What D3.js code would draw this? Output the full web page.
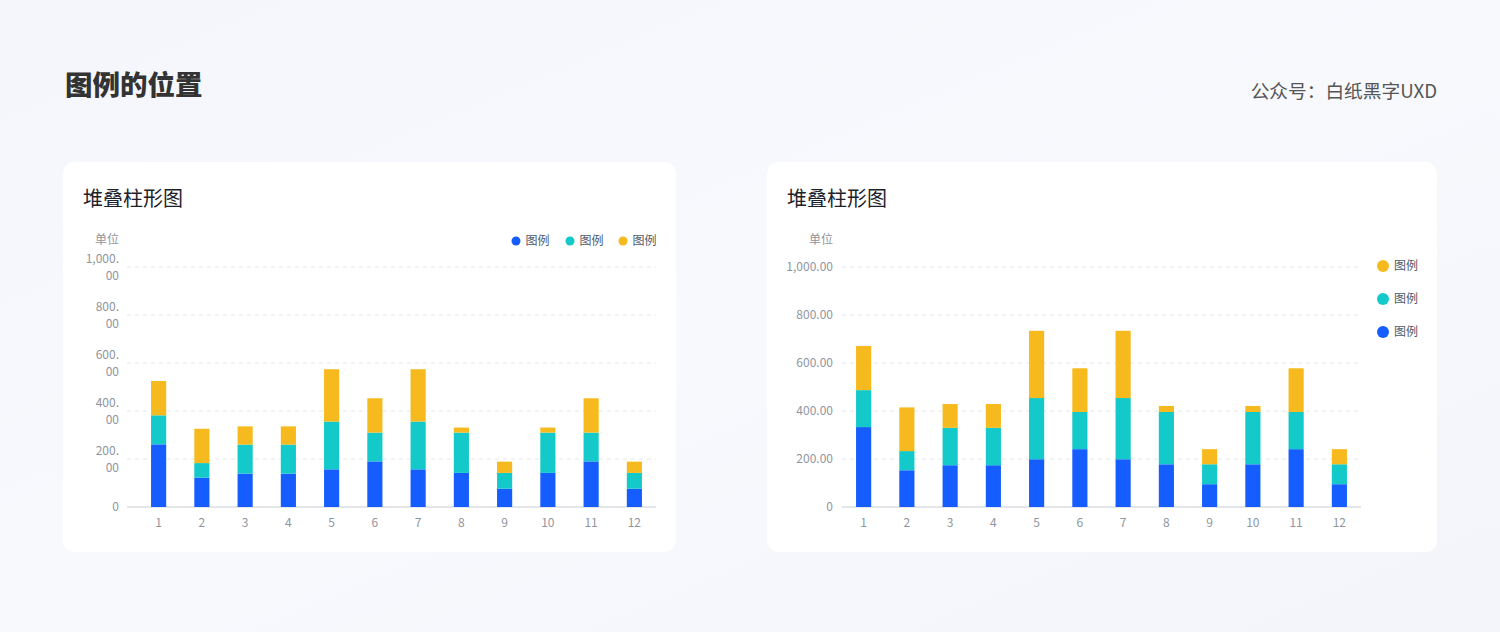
<!DOCTYPE html>
<html>
<head>
<meta charset="utf-8">
<script src="https://cdn.jsdelivr.net/npm/d3@7"></script>
<style>
  body { margin: 0; background: #f5f7fb; }
  svg { display: block; font-family: "Noto Sans CJK SC", "Noto Sans", sans-serif; }
</style>
</head>
<body>
<div id="chart"></div>
<script>
// data
var categories = ["1", "2", "3", "4", "5", "6", "7", "8", "9", "10", "11", "12"];
var yTicks = [0, 200, 400, 600, 800, 1000];
var seriesNames = ["图例", "图例", "图例"];
var colors = ["#165dff", "#14c9c9", "#f7ba1e"];

// left chart (legend on top)
var leftBlue = [261, 122, 139, 139, 157, 190, 157, 142, 76, 142, 190, 76];
var leftTeal = [121, 61, 121, 121, 199, 120, 199, 168, 66, 168, 120, 66];
var leftYellow = [143, 143, 76, 76, 218, 143, 218, 21, 47, 21, 143, 47];

// right chart (legend on the right)
var rightBlue = [333, 153, 174, 174, 199, 241, 199, 178, 95, 178, 241, 95];
var rightTeal = [154, 80, 156, 156, 255, 155, 255, 218, 83, 218, 155, 83];
var rightYellow = [184, 182, 99, 99, 280, 182, 280, 25, 63, 25, 182, 63];

var svgWidth = 1500;
var svgHeight = 632;

var svg = d3.select("#chart")
    .append("svg")
    .attr("width", svgWidth)
    .attr("height", svgHeight);

// background
var defs = svg.append("defs");
var bg = defs.append("linearGradient").attr("id", "bg")
    .attr("x1", "0").attr("y1", "0").attr("x2", "1").attr("y2", "1");
bg.append("stop").attr("offset", "0%").attr("stop-color", "#f4f6fb");
bg.append("stop").attr("offset", "50%").attr("stop-color", "#f7f9fd");
bg.append("stop").attr("offset", "100%").attr("stop-color", "#f3f5fa");
svg.append("rect").attr("width", svgWidth).attr("height", svgHeight).attr("fill", "url(#bg)");

// page title
svg.append("text")
    .attr("x", 65).attr("y", 95)
    .attr("font-size", 27.5).attr("font-weight", "900")
    .attr("fill", "#333")
    .text("图例的位置");

svg.append("text")
    .attr("x", 1437).attr("y", 98)
    .attr("text-anchor", "end")
    .attr("font-size", 18.7)
    .attr("fill", "#555")
    .text("公众号：白纸黑字UXD");

function drawChart(opt) {
    var g = svg.append("g");

    g.append("rect")
        .attr("x", opt.card[0]).attr("y", opt.card[1])
        .attr("width", opt.card[2]).attr("height", opt.card[3])
        .attr("rx", 12)
        .attr("fill", "#fff");

    g.append("text")
        .attr("x", opt.card[0] + 20).attr("y", 206)
        .attr("font-size", 20)
        .attr("fill", "#1d2129")
        .text("堆叠柱形图");

    var x = d3.scaleBand()
        .domain(categories)
        .range(opt.xRange)
        .paddingInner(0.65)
        .paddingOuter(0.325);

    var y = d3.scaleLinear()
        .domain([0, 1000])
        .range([507, 267]);

    // grid lines
    g.selectAll(".grid")
        .data(yTicks.filter(d => d > 0))
        .enter()
        .append("line")
        .attr("x1", opt.gridX[0]).attr("x2", opt.gridX[1])
        .attr("y1", d => y(d)).attr("y2", d => y(d))
        .attr("stroke", "#e5e6eb")
        .attr("stroke-dasharray", "4,4");

    // y axis labels
    var fmt = d3.format(",.2f");
    var yLab = g.selectAll(".ylab")
        .data(yTicks)
        .enter()
        .append("text")
        .attr("text-anchor", "end")
        .attr("font-size", 12)
        .attr("fill", "#8f959e");

    yLab.each(function (d) {
        var t = d3.select(this);
        var s = d === 0 ? "0" : fmt(d);
        if (opt.wrapTicks && d !== 0) {
            var parts = [s.slice(0, s.indexOf(".") + 1), s.slice(s.indexOf(".") + 1)];
            t.append("tspan").attr("x", opt.labelX).attr("y", y(d) - 4).text(parts[0]);
            t.append("tspan").attr("x", opt.labelX).attr("y", y(d) + 13).text(parts[1]);
        } else {
            t.attr("x", opt.labelX).attr("y", y(d) + 4).text(s);
        }
    });

    g.append("text")
        .attr("x", opt.labelX).attr("y", 244)
        .attr("text-anchor", "end")
        .attr("font-size", 12)
        .attr("fill", "#8f959e")
        .text("单位");

    // baseline
    g.append("line")
        .attr("x1", opt.gridX[0]).attr("x2", opt.gridX[1])
        .attr("y1", y(0)).attr("y2", y(0))
        .attr("stroke", "#c9cdd4");

    // x labels
    g.selectAll(".xlab")
        .data(categories)
        .enter()
        .append("text")
        .attr("x", d => x(d) + x.bandwidth() / 2)
        .attr("y", 527)
        .attr("text-anchor", "middle")
        .attr("font-size", 12)
        .attr("fill", "#8f959e")
        .text(d => d);

    // stacked bars
    var table = categories.map(function (c, i) {
        return { cat: c, s0: opt.values[0][i], s1: opt.values[1][i], s2: opt.values[2][i] };
    });
    var stack = d3.stack().keys(["s0", "s1", "s2"])(table);

    g.selectAll(".layer")
        .data(stack)
        .enter()
        .append("g")
        .attr("fill", (d, i) => colors[i])
        .selectAll("rect")
        .data(d => d)
        .enter()
        .append("rect")
        .attr("x", d => x(d.data.cat))
        .attr("y", d => y(d[1]))
        .attr("width", x.bandwidth())
        .attr("height", d => y(d[0]) - y(d[1]));

    // legend
    var leg = g.selectAll(".leg")
        .data(opt.legendOrder)
        .enter()
        .append("g")
        .attr("transform", (d, i) => `translate(${opt.legendPos[i][0]}, ${opt.legendPos[i][1]})`);

    leg.append("circle")
        .attr("r", opt.legendR)
        .attr("fill", d => colors[d]);

    leg.append("text")
        .attr("x", opt.legendR + 5)
        .attr("y", 4)
        .attr("font-size", 12)
        .attr("fill", "#4e5969")
        .text(d => seriesNames[d]);
}

drawChart({
    card: [63, 162, 613, 390],
    xRange: [137, 656],
    gridX: [127, 656],
    labelX: 119,
    wrapTicks: true,
    values: [leftBlue, leftTeal, leftYellow],
    legendOrder: [0, 1, 2],
    legendPos: [[516, 241], [570, 241], [623, 241]],
    legendR: 4.5
});

drawChart({
    card: [767, 162, 670, 390],
    xRange: [842, 1361],
    gridX: [842, 1361],
    labelX: 833,
    wrapTicks: false,
    values: [rightBlue, rightTeal, rightYellow],
    legendOrder: [2, 1, 0],
    legendPos: [[1383, 266], [1383, 299], [1383, 332]],
    legendR: 6
});
</script>
</body>
</html>
